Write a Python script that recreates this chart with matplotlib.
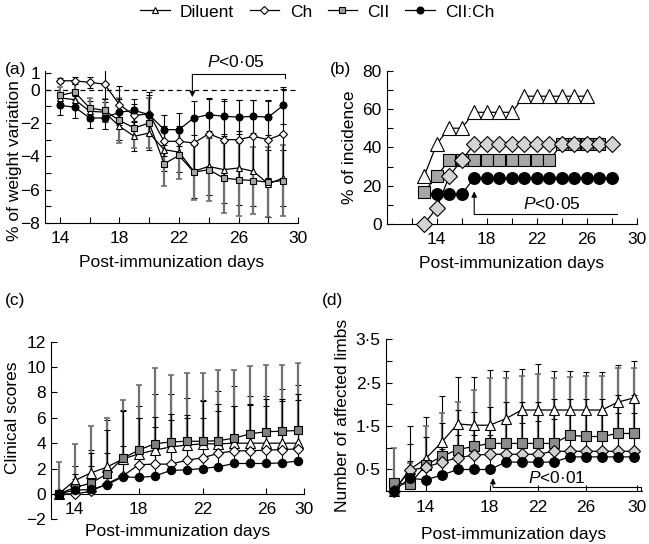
import matplotlib.pyplot as plt
import numpy as np
from matplotlib.lines import Line2D

plt.rcParams['font.family'] = ['Liberation Sans', 'DejaVu Sans']
plt.rcParams['mathtext.fontset'] = 'custom'
plt.rcParams['mathtext.it'] = 'Liberation Sans:italic'
plt.rcParams['mathtext.rm'] = 'Liberation Sans'
plt.rcParams['font.size'] = 12.5

groups = ['Diluent', 'Ch', 'CII', 'CII:Ch']

# (a) % of weight variation
days_a = np.arange(14, 30)
wt_dil = [-0.5, -0.6, -1.3, -1.35, -2.2, -2.8, -2.6, -3.6, -3.75, -4.9, -4.6, -4.8, -4.7, -4.9, -5.65, -5.3]
wt_ch = [0.53, 0.53, 0.43, 0.33, -0.9, -1.55, -1.45, -3.1, -3.1, -3.2, -2.65, -3.0, -3.0, -2.8, -3.0, -2.65]
wt_cii = [-0.35, -0.15, -1.1, -1.25, -1.85, -2.3, -2.0, -4.45, -3.95, -4.95, -4.8, -5.3, -5.4, -5.45, -5.55, -5.45]
wt_ciich = [-0.95, -1.05, -1.7, -1.7, -1.35, -1.25, -1.5, -2.4, -2.4, -1.7, -1.5, -1.6, -1.65, -1.6, -1.65, -0.95]
wt_err_dil = [0.35, 0.45, 0.6, 0.6, 0.8, 0.9, 1.0, 1.3, 1.2, 1.6, 1.7, 2.0, 2.2, 2.1, 2.0, 1.7]
wt_err_ch = [0.15, 0.2, 0.35, 0.9, 1.1, 0.7, 1.3, 0.9, 0.9, 1.6, 2.1, 2.3, 2.4, 2.2, 2.3, 2.7]
wt_err_cii = [0.5, 0.5, 0.6, 0.7, 1.35, 1.2, 1.5, 1.3, 1.4, 1.65, 1.9, 2.1, 2.2, 2.0, 2.1, 2.1]
wt_err_ciich = [0.6, 0.65, 0.6, 0.65, 0.8, 0.7, 1.2, 0.9, 1.0, 1.0, 1.0, 1.05, 1.0, 1.0, 1.05, 1.1]

# (b) % of incidence
days_b_dil = np.arange(13, 27)
inc_dil = [25, 41.7, 50, 50, 58.3, 58.3, 58.3, 58.3, 66.7, 66.7, 66.7, 66.7, 66.7, 66.7]
days_b_ch = np.arange(13, 29)
inc_ch = [0, 8.3, 25, 33.3, 41.7, 41.7, 41.7, 41.7, 41.7, 41.7, 41.7, 41.7, 41.7, 41.7, 41.7, 41.7]
days_b_cii = np.arange(13, 28)
inc_cii = [16.7, 25, 33.3, 33.3, 33.3, 33.3, 33.3, 33.3, 33.3, 33.3, 33.3, 41.7, 41.7, 41.7, 41.7]
days_b_ciich = np.arange(14, 29)
inc_ciich = [15.6, 15.6, 15.6, 24, 24, 24, 24, 24, 24, 24, 24, 24, 24, 24, 24]

# (c) clinical scores
days_c = np.arange(13, 29)
cs_dil = [0, 1.05, 1.65, 2.1, 2.75, 3.15, 3.45, 3.7, 3.85, 3.95, 3.95, 4.0, 4.0, 4.0, 4.0, 4.0]
cs_ch = [0, 0, 0.2, 0.8, 1.4, 2.3, 2.35, 2.35, 2.65, 2.85, 3.2, 3.4, 3.4, 3.45, 3.5, 3.55]
cs_cii = [0, 0.5, 0.85, 1.55, 2.8, 3.45, 3.95, 4.1, 4.15, 4.15, 4.2, 4.4, 4.75, 4.9, 4.95, 5.0]
cs_ciich = [0, 0.3, 0.35, 0.7, 1.35, 1.3, 1.4, 1.85, 1.9, 2.0, 2.15, 2.4, 2.4, 2.4, 2.45, 2.6]
cs_err_dil = [0, 1.15, 1.85, 3.7, 3.85, 3.75, 4.45, 4.2, 3.75, 3.45, 4.15, 4.5, 3.7, 3.7, 4.3, 4.6]
cs_err_ch = [0, 1.6, 3.0, 4.2, 5.1, 3.7, 3.7, 3.95, 3.55, 4.45, 3.9, 3.5, 3.7, 4.05, 4.0, 4.35]
cs_err_cii = [2.5, 3.4, 4.5, 4.45, 4.6, 5.15, 5.95, 5.3, 5.35, 5.4, 5.6, 5.4, 5.3, 5.3, 5.25, 5.35]
cs_err_ciich = [0, 0.9, 1.85, 2.5, 2.45, 4.7, 3.9, 3.95, 4.1, 4.0, 4.35, 4.5, 4.6, 4.5, 4.85, 4.8]
c_ticks = [14, 18, 22, 26, 28.35]
c_ticklabels = ['14', '18', '22', '26', '30']

# (d) number of affected limbs
days_d = np.arange(12, 28)
lb_dil = [0, 0.5, 0.75, 1.13, 1.55, 1.52, 1.52, 1.67, 1.87, 1.87, 1.87, 1.87, 1.87, 1.87, 2.05, 2.15]
lb_ch = [0, 0.48, 0.55, 0.67, 0.77, 0.83, 0.85, 0.85, 0.85, 0.85, 0.92, 0.92, 0.92, 0.92, 0.92, 0.92]
lb_cii = [0.18, 0.16, 0.6, 0.8, 0.96, 1.03, 1.1, 1.1, 1.1, 1.1, 1.1, 1.29, 1.26, 1.26, 1.33, 1.33]
lb_ciich = [0, 0.3, 0.26, 0.37, 0.5, 0.5, 0.5, 0.67, 0.67, 0.67, 0.67, 0.79, 0.79, 0.79, 0.79, 0.79]
lb_err_dil = [0.0, 1.0, 0.97, 1.07, 1.07, 1.1, 1.28, 1.09, 0.95, 1.05, 0.91, 0.91, 0.88, 0.88, 0.85, 0.85]
lb_err_ch = [0, 0.6, 0.7, 0.9, 1.1, 1.0, 1.1, 1.2, 1.2, 1.2, 1.2, 1.2, 1.2, 1.2, 1.3, 1.3]
lb_err_cii = [0.82, 0.5, 0.9, 1.0, 1.1, 1.3, 1.5, 1.5, 1.55, 1.6, 1.5, 1.35, 1.4, 1.4, 1.5, 1.5]
lb_err_ciich = [0, 0.4, 0.5, 0.6, 0.8, 0.8, 0.8, 0.9, 0.9, 0.95, 1.0, 1.0, 1.0, 1.0, 1.0, 1.0]
d_ticks = [14, 18, 21, 24, 27.2]
d_ticklabels = ['14', '18', '22', '26', '30']

markers = {'Diluent': '^', 'Ch': 'D', 'CII': 's', 'CII:Ch': 'o'}


def style_axes(ax):
    for s in ['top', 'right']:
        ax.spines[s].set_visible(False)
    ax.tick_params(which='both', direction='in', length=4, width=0.8, labelsize=12.5)
    ax.tick_params(axis='x', pad=6)


def draw_series(ax, x, y, err, name, face, ms, lower=True):
    if err is not None:
        e = [err, err] if lower else [np.zeros(len(err)), err]
        if name == 'CII':
            ax.errorbar(x, y, yerr=e, fmt='none', ecolor='#707070', elinewidth=1.6,
                        capsize=2, capthick=1.2, zorder=1)
        else:
            ax.errorbar(x, y, yerr=e, fmt='none', ecolor='black', elinewidth=0.8,
                        capsize=2, capthick=0.8, zorder=1)
    m = markers[name]
    size = ms * 0.8 if m == 'D' else ms
    ax.plot(x, y, color='black', lw=0.9, marker=m, ms=size, mfc=face,
            mec='black', mew=0.8, zorder=3, clip_on=False)


fig = plt.figure(figsize=(6.49, 5.44), dpi=100)

# ---- (a)
ax = fig.add_axes([0.0693, 0.590, 0.39, 0.279])
style_axes(ax)
ax.axhline(0, color='black', ls='--', lw=0.9, dashes=(4, 3), zorder=0)
draw_series(ax, days_a, wt_dil, wt_err_dil, 'Diluent', 'white', 5)
draw_series(ax, days_a, wt_cii, wt_err_cii, 'CII', '#a8a8a8', 5)
draw_series(ax, days_a, wt_ch, wt_err_ch, 'Ch', 'white', 5.5)
draw_series(ax, days_a, wt_ciich, wt_err_ciich, 'CII:Ch', 'black', 5)
ax.set_xlim(13, 30)
ax.set_ylim(-8, 1.1)
ax.set_xticks([14, 18, 22, 26, 30])
ax.set_xticks([16, 20, 24, 28], minor=True)
ax.set_yticks([-8, -6, -4, -2, 0, 1])
ax.set_yticks([-7, -5, -3, -1], minor=True)
ax.set_xlabel('Post-immunization days', labelpad=6)
ax.set_ylabel('% of weight variation')
ax.yaxis.set_label_coords(-0.092, 0.41)
ax.annotate('', xy=(22.9, -0.45), xytext=(22.9, 0.92),
            arrowprops=dict(arrowstyle='-|>', color='black', lw=0.8, mutation_scale=8,
                            shrinkA=0, shrinkB=0), annotation_clip=False)
ax.plot([22.9, 29.1, 29.1], [0.92, 0.92, 0.7], color='black', lw=0.8, clip_on=False)
ax.text(25.8, 1.65, r'$P$<0·05', ha='center', va='center', fontsize=12.5)
fig.text(0.008, 0.872, '(a)', fontsize=12.5, va='center')

# ---- (b)
ax = fig.add_axes([0.5958, 0.5882, 0.3854, 0.2818])
style_axes(ax)
draw_series(ax, days_b_dil, inc_dil, None, 'Diluent', 'white', 9.5)
draw_series(ax, days_b_cii, inc_cii, None, 'CII', '#a6a6a6', 8.5)
draw_series(ax, days_b_ch, inc_ch, None, 'Ch', '#d4d4d4', 10)
draw_series(ax, days_b_ciich, inc_ciich, None, 'CII:Ch', 'black', 8.5)
ax.set_xlim(10, 30)
ax.set_ylim(0, 80)
ax.set_xticks([14, 18, 22, 26, 30])
ax.set_xticks([12, 16, 20, 24, 28], minor=True)
ax.set_yticks([0, 20, 40, 60, 80])
ax.set_yticks([10, 30, 50, 70], minor=True)
ax.set_xlabel('Post-immunization days', labelpad=6)
ax.set_ylabel('% of incidence', labelpad=4)
ax.annotate('', xy=(17, 17), xytext=(17, 5.2),
            arrowprops=dict(arrowstyle='-|>', color='black', lw=0.8, mutation_scale=8,
                            shrinkA=0, shrinkB=0), annotation_clip=False)
ax.plot([17, 28.4], [5.2, 5.2], color='black', lw=0.8, clip_on=False)
ax.text(23.2, 10.5, r'$P$<0·05', ha='center', va='center', fontsize=12.5)
fig.text(0.508, 0.872, '(b)', fontsize=12.5, va='center')

# ---- (c)
ax = fig.add_axes([0.0781, 0.0454, 0.3903, 0.3265])
style_axes(ax)
ax.spines['bottom'].set_position(('data', 0))
draw_series(ax, days_c, cs_dil, cs_err_dil, 'Diluent', 'white', 6.5, lower=False)
draw_series(ax, days_c, cs_cii, cs_err_cii, 'CII', '#808080', 6, lower=False)
draw_series(ax, days_c, cs_ch, cs_err_ch, 'Ch', 'white', 6.5, lower=False)
draw_series(ax, days_c, cs_ciich, cs_err_ciich, 'CII:Ch', 'black', 6, lower=False)
ax.set_xlim(12.5, 28.35)
ax.set_ylim(-2, 12)
ax.set_xticks(c_ticks)
ax.set_xticklabels(c_ticklabels)
ax.set_yticks([-2, 0, 2, 4, 6, 8, 10, 12])
ax.set_xlabel('Post-immunization days')
ax.xaxis.set_label_coords(0.5, -0.025)
ax.set_ylabel('Clinical scores')
ax.yaxis.set_label_coords(-0.12, 0.57)
fig.text(0.008, 0.447, '(c)', fontsize=12.5, va='center')

# ---- (d)
ax = fig.add_axes([0.5943, 0.0971, 0.3945, 0.2792])
style_axes(ax)
draw_series(ax, days_d, lb_dil, lb_err_dil, 'Diluent', 'white', 7.5, lower=False)
draw_series(ax, days_d, lb_cii, lb_err_cii, 'CII', '#8c8c8c', 7, lower=False)
draw_series(ax, days_d, lb_ch, lb_err_ch, 'Ch', '#d0d0d0', 8, lower=False)
draw_series(ax, days_d, lb_ciich, lb_err_ciich, 'CII:Ch', 'black', 7, lower=False)
ax.set_xlim(11.5, 27.5)
ax.set_ylim(0, 3.5)
ax.set_xticks(d_ticks)
ax.set_xticklabels(d_ticklabels)
ax.set_yticks([0.5, 1.5, 2.5, 3.5])
ax.set_yticklabels(['0·5', '1·5', '2·5', '3·5'])
ax.set_yticks([1, 2, 3], minor=True)
ax.set_xlabel('Post-immunization days')
ax.xaxis.set_label_coords(0.5, -0.235)
ax.set_ylabel('Number of affected limbs', labelpad=4)
ax.annotate('', xy=(18.2, 0.3), xytext=(18.2, 0.1),
            arrowprops=dict(arrowstyle='-|>', color='black', lw=0.8, mutation_scale=8,
                            shrinkA=0, shrinkB=0), annotation_clip=False)
ax.plot([18.2, 27.45, 27.45], [0.1, 0.1, 0.0], color='black', lw=0.8, clip_on=False)
ax.text(22.2, 0.3, r'$P$<0·01', ha='center', va='center', fontsize=12.5)
fig.text(0.496, 0.447, '(d)', fontsize=12.5, va='center')

# ---- legend
faces = ['white', 'white', '#a0a0a0', 'black']
handles = [Line2D([0], [0], color='black', lw=0.9, marker=markers[g],
                  ms=(5 if g != 'Ch' else 4.5), mfc=f, mec='black', mew=0.8)
           for g, f in zip(groups, faces)]
fig.legend(handles, groups, loc='center', bbox_to_anchor=(0.489, 0.978), ncol=4,
           frameon=False, handlelength=1.7, columnspacing=0.9, handletextpad=0.6,
           fontsize=12.5)

fig.savefig('out.png', dpi=100)
